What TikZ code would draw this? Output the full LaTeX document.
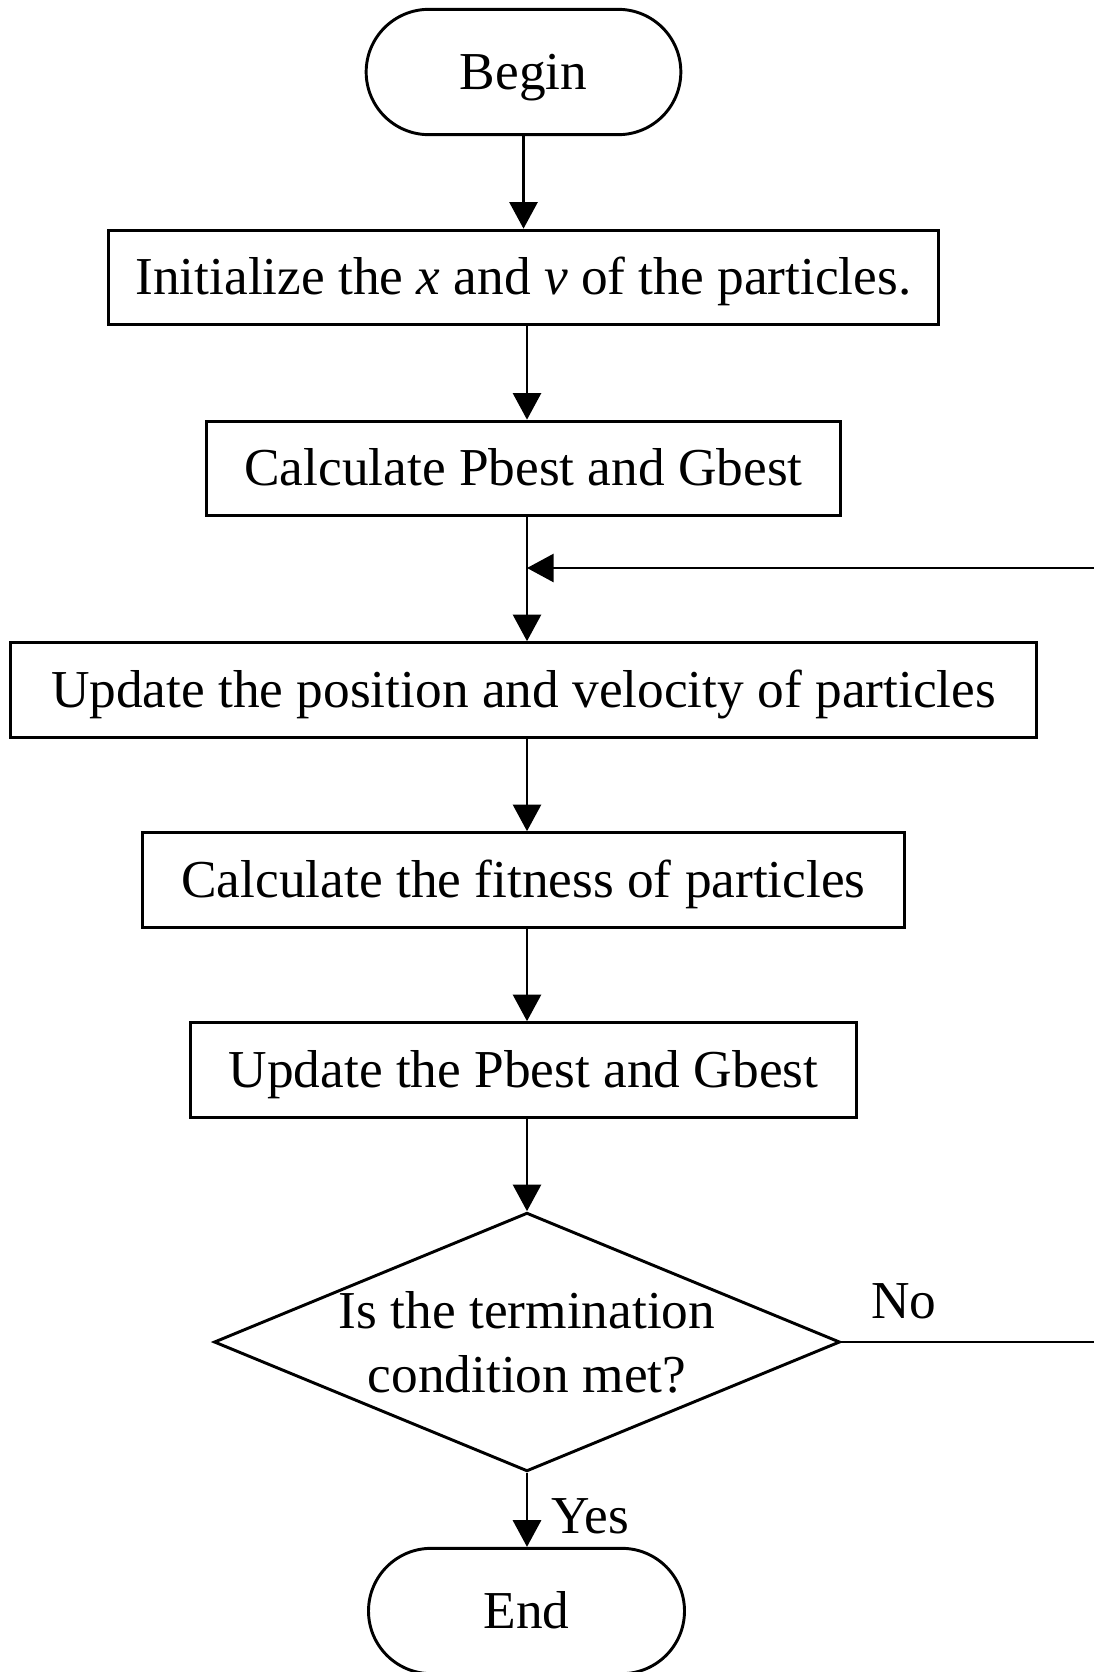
\documentclass[tikz,border=0pt]{standalone}
\usepackage{fontspec}
\setmainfont{Liberation Serif}
\usetikzlibrary{arrows.meta,shapes.misc,shapes.geometric}
\begin{document}
\begin{tikzpicture}[x=0.75pt,y=-0.75pt,
  every node/.style={font=\fontsize{40}{48}\selectfont},
  box/.style={draw,line width=2.2pt,rectangle,minimum height=71pt,inner sep=0pt,text height=30pt,text depth=4pt},
  term/.style={draw,line width=2.2pt,rounded rectangle,minimum width=236pt,minimum height=94pt,inner sep=0pt,text height=30pt,text depth=4pt},
  conn/.style={line width=2.2pt,-{Triangle[length=20pt,width=21pt]}}]
\useasboundingbox (0,0) rectangle (1094,1672);
\node[term] (begin) at (523.5,72) {Begin};
\node[box,minimum width=622.5pt] (init) at (523.5,277.5) {Initialize the \textit{x} and \textit{v} of the particles.};
\node[box,minimum width=475pt] (calc) at (523.5,468.5) {Calculate Pbest and Gbest};
\node[box,minimum width=769pt] (upd) at (523.5,690) {Update the position and velocity of particles};
\node[box,minimum width=571pt] (fit) at (523.5,880) {Calculate the fitness of particles};
\node[box,minimum width=499pt] (updp) at (523.5,1070) {Update the Pbest and Gbest};
\node[draw,line width=2.2pt,diamond,minimum width=469.5pt,minimum height=194pt,inner sep=0pt,aspect=2.42] (dec) at (527,1342) {};
\node[align=center] (dtext) at (527,1342) {Is the termination\\condition met?};
\node[term,minimum width=237pt] (end) at (526.5,1611) {End};
\node (no) at (904,1301) {No};
\node[anchor=west,inner sep=0pt] (yes) at (551,1516) {Yes};
\coordinate (loopin) at (527,568);
\coordinate (rightx) at (1110,1342);
\draw[conn] (begin) -- (init);
\draw[conn] (init.south -| dec.center) -- (calc.north -| dec.center);
\draw[conn] (calc.south -| dec.center) -- (upd.north -| dec.center);
\draw[conn] (upd.south -| dec.center) -- (fit.north -| dec.center);
\draw[conn] (fit.south -| dec.center) -- (updp.north -| dec.center);
\draw[conn] (updp.south -| dec.center) -- (dec.north);
\draw[conn] (dec.south) -- (end.north -| dec.center);
\draw[conn] (dec.east) -- (rightx) |- (loopin);
\end{tikzpicture}
\end{document}
